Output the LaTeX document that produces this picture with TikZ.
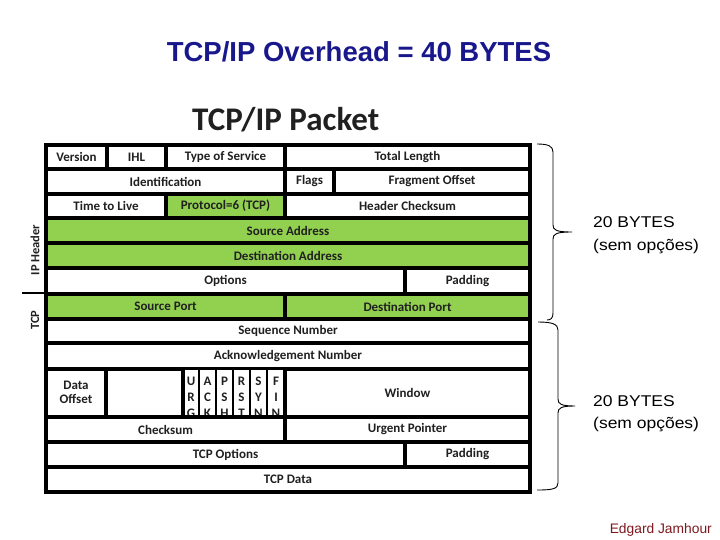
\documentclass[tikz,border=0pt]{standalone}
\usepackage{fontspec}
\setmainfont{Liberation Sans}
\newfontfamily\calfont{Carlito}
\definecolor{pgreen}{HTML}{92D050}
\definecolor{ttlblue}{RGB}{24,24,140}
\definecolor{txtdark}{HTML}{202020}
\definecolor{authred}{RGB}{125,25,30}
\newcommand{\pcell}[7][cell]{%
  \node[#1,minimum width={#5-#3},minimum height={#6-#4}] (#2) at ({(#3+#5)/2},{(#4+#6)/2}) {#7};}
\begin{document}
\begin{tikzpicture}[x=1pt,y=-1pt,
  cell/.style={draw=black,line width=3.1pt,fill=white,inner sep=0pt,text=txtdark,
    font=\calfont\bfseries\fontsize{13}{15}\selectfont},
  gcell/.style={cell,fill=pgreen},
  flagcell/.style={cell,line width=1.8pt},
  flaglbl/.style={inner sep=0pt,anchor=base,text=txtdark,font=\calfont\bfseries\fontsize{13}{15}\selectfont},
  sidelbl/.style={inner sep=0pt,rotate=90,text=txtdark,font=\calfont\bfseries\fontsize{12.5}{15}\selectfont},
  bytes/.style={inner sep=0pt,anchor=base west,xscale=1.12,font=\fontsize{15.6}{20}\selectfont},
  bracestyle/.style={draw=black,line width=0.9pt}]
\useasboundingbox (0,0) rectangle (720,540);
\fill[white] (0,0) rectangle (720,540);

% titles
\node[inner sep=0pt,anchor=base,text=ttlblue,font=\bfseries\fontsize{27.5}{30}\selectfont] (title) at (359,62) {TCP/IP Overhead = 40 BYTES};
\node[inner sep=0pt,anchor=base west,text=txtdark,font=\calfont\bfseries\fontsize{33}{36}\selectfont] (packet) at (192,131) {TCP/IP Packet};

% row 1
\pcell{ver}{46}{145}{107}{169}{Version}
\pcell{ihl}{107}{145}{166}{169}{IHL}
\pcell{tos}{166}{145}{285}{169}{Type of Service}
\pcell{tlen}{285}{145}{530}{169}{Total Length}
% row 2
\pcell{ident}{46}{169}{285}{194}{Identification}
\pcell{ipflags}{285}{169}{334}{194}{Flags}
\pcell{frag}{334}{169}{530}{194}{Fragment Offset}
% row 3
\pcell{ttl}{46}{194}{166}{218}{Time to Live}
\pcell[gcell]{proto}{166}{194}{285}{218}{Protocol=6 (TCP)}
\pcell{hcs}{285}{194}{530}{218}{Header Checksum}
% row 4-5
\pcell[gcell]{srcaddr}{46}{218}{530}{243}{Source Address}
\pcell[gcell]{dstaddr}{46}{243}{530}{268}{Destination Address}
% row 6
\pcell{opts}{46}{268}{405}{294}{Options}
\pcell{pad}{405}{268}{530}{294}{Padding}
% row 7
\pcell[gcell]{sport}{46}{294}{285}{319}{Source Port}
\pcell[gcell]{dport}{285}{294}{530}{319}{Destination Port}
% row 8-9
\pcell{seq}{46}{319}{530}{343}{Sequence Number}
\pcell{ack}{46}{343}{530}{369}{Acknowledgement Number}
% row 10
\foreach \xa/\xb/\la/\lb/\lc [count=\i] in {183/199/U/R/G,199/216/A/C/K,216/233/P/S/H,233/250/R/S/T,250/267/S/Y/N,267/285/F/I/N}{
  \pcell[flagcell]{flag\i}{\xa}{369}{\xb}{417}{}
  \node[flaglbl] (flag\i a) at ({(\xa+\xb)/2},385) {\la};
  \node[flaglbl] (flag\i b) at ({(\xa+\xb)/2},401) {\lb};
  \node[flaglbl] (flag\i c) at ({(\xa+\xb)/2},417.5) {\lc};
}
\pcell{doff}{46}{369}{106}{417}{\begin{tabular}{@{}c@{}}Data\\[-1pt]Offset\end{tabular}}
\pcell{resv}{106}{369}{183}{417}{}
\pcell{win}{285}{369}{530}{417}{Window}
% row 11
\pcell{cks}{46}{417}{285}{442}{Checksum}
\pcell{urg}{285}{417}{530}{442}{Urgent Pointer}
% row 12
\pcell{topt}{46}{442}{405}{467}{TCP Options}
\pcell{tpad}{405}{442}{530}{467}{Padding}
% row 13
\pcell{tdata}{46}{467}{530}{492}{TCP Data}
% outer frame
\draw[line width=3.8pt] (46,145) rectangle (530,492);

% side labels
\node[sidelbl] (iphdr) at (35,250) {IP Header};
\node[sidelbl] (tcplbl) at (35,320) {TCP};
\draw[line width=1.8pt] (22,293) -- (45,293);

% braces
\draw[bracestyle] (537,144) .. controls (548,144) and (553,146) .. (553,152) -- (553,225)
  .. controls (553,230) and (556,232) .. (572,232)
  .. controls (556,232) and (553,234) .. (553,239) -- (553,313)
  .. controls (553,318) and (551,320) .. (547,320);
\draw[bracestyle] (538,322) .. controls (552,322) and (558,324) .. (558,330) -- (558,399)
  .. controls (558,404) and (561,406) .. (575,406)
  .. controls (561,406) and (558,408) .. (558,413) -- (558,483)
  .. controls (558,489) and (552,490) .. (537,490);

\node[bytes] (b1a) at (593,228) {20 BYTES};
\node[bytes] (b1b) at (593,250) {(sem opções)};
\node[bytes] (b2a) at (593,406) {20 BYTES};
\node[bytes] (b2b) at (593,428) {(sem opções)};

\node[inner sep=0pt,anchor=base east,text=authred,font=\fontsize{13.8}{15}\selectfont] (author) at (712,533) {Edgard Jamhour};
\end{tikzpicture}
\end{document}
